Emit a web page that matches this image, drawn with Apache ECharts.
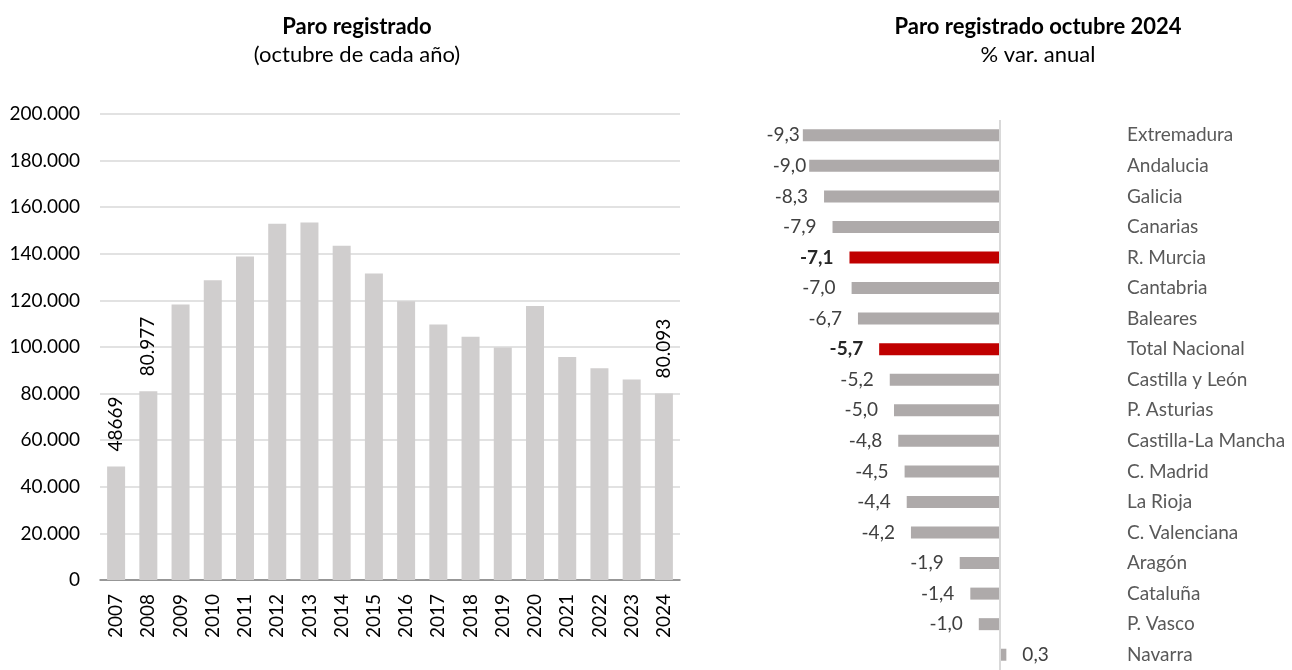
<!DOCTYPE html>
<html>
	<head>
		<meta charset="utf-8">
		<title>Paro registrado</title>
		<script src="https://cdn.jsdelivr.net/npm/echarts@6/dist/echarts.min.js"></script>
		<style>
			html, body { margin: 0; padding: 0; background: #fff; }
		</style>
	</head>
	<body>
		<div id="main" style="width: 1292px;height:670px;"></div>

		<script type="text/javascript">
			// left chart: paro registrado en octubre de cada año
			var years = ['2007', '2008', '2009', '2010', '2011', '2012', '2013', '2014', '2015',
				'2016', '2017', '2018', '2019', '2020', '2021', '2022', '2023', '2024'];
			var paro = [48669, 80977, 118200, 128600, 138800, 152900, 153400, 143500, 131500,
				119600, 109700, 104400, 99800, 117600, 95700, 90900, 86100, 80093];
			var paroLabels = ['48669', '80.977', '', '', '', '', '', '', '',
				'', '', '', '', '', '', '', '', '80.093'];

			// right chart: % var. anual por comunidad
			var regiones = ['Extremadura', 'Andalucia', 'Galicia', 'Canarias', 'R. Murcia', 'Cantabria',
				'Baleares', 'Total Nacional', 'Castilla y León', 'P. Asturias', 'Castilla-La Mancha',
				'C. Madrid', 'La Rioja', 'C. Valenciana', 'Aragón', 'Cataluña', 'P. Vasco', 'Navarra'];
			var variacion = [-9.3, -9.0, -8.3, -7.9, -7.1, -7.0, -6.7, -5.7, -5.2, -5.0, -4.8,
				-4.5, -4.4, -4.2, -1.9, -1.4, -1.0, 0.3];
			var destacadas = ['R. Murcia', 'Total Nacional'];

			var fuente = 'Lato, "Open Sans", sans-serif';

			function miles(v) {
				return String(v).replace(/\B(?=(\d{3})+(?!\d))/g, '.');
			}

			var paroData = paro.map(function(v, i) {
				return {
					value: v,
					label: { show: paroLabels[i] !== '', formatter: paroLabels[i] }
				};
			});

			var varData = variacion.map(function(v, i) {
				var rojo = destacadas.indexOf(regiones[i]) >= 0;
				return {
					value: v,
					itemStyle: { color: rojo ? '#c00000' : '#aeaaaa' },
					label: {
						position: v < 0 ? 'left' : 'right',
						// los rótulos más largos quedan pegados al borde del área
						distance: v < -8.8 ? 3 : 16,
						fontWeight: rojo ? 'bold' : 'normal',
						color: rojo ? '#262626' : '#404040'
					}
				};
			});

			var myChart = echarts.init(document.getElementById('main'));

			var option = {
				animation: false,
				textStyle: { fontFamily: fuente },
				title: [{
					text: 'Paro registrado',
					subtext: '(octubre de cada año)',
					left: 352,
					top: 11,
					textAlign: 'center',
					itemGap: 6,
					textStyle: { fontSize: 22, fontWeight: 'bold', color: '#000', fontFamily: fuente },
					subtextStyle: { fontSize: 22, color: '#000', fontFamily: fuente }
				}, {
					text: 'Paro registrado octubre 2024',
					subtext: '% var. anual',
					left: 1033,
					top: 11,
					textAlign: 'center',
					itemGap: 6,
					textStyle: { fontSize: 22, fontWeight: 'bold', color: '#000', fontFamily: fuente },
					subtextStyle: { fontSize: 22, color: '#000', fontFamily: fuente }
				}],
				grid: [{
					left: 100,
					right: 612,
					top: 114,
					bottom: 90
				}, {
					left: 788,
					right: 186,
					top: 120,
					bottom: -7
				}],
				xAxis: [{
					gridIndex: 0,
					type: 'category',
					data: years,
					axisLine: { lineStyle: { color: '#7f7f7f', width: 1.5 } },
					axisTick: { show: false },
					axisLabel: { rotate: 90, margin: 14, fontSize: 19, color: '#000' }
				}, {
					gridIndex: 1,
					type: 'value',
					min: -10,
					max: 5,
					axisLine: { show: false },
					axisTick: { show: false },
					axisLabel: { show: false },
					splitLine: { show: false }
				}],
				yAxis: [{
					gridIndex: 0,
					type: 'value',
					min: 0,
					max: 200000,
					interval: 20000,
					axisLabel: {
						fontSize: 19,
						color: '#000',
						margin: 20,
						formatter: function(v) { return miles(v); }
					},
					splitLine: { lineStyle: { color: '#d9d9d9', width: 1.5 } }
				}, {
					gridIndex: 1,
					type: 'category',
					data: regiones,
					inverse: true,
					position: 'right',
					axisLine: { show: false },
					axisTick: { show: false },
					axisLabel: { fontSize: 19, color: '#595959', margin: 21 }
				}],
				series: [{
					name: 'Paro registrado',
					type: 'bar',
					xAxisIndex: 0,
					yAxisIndex: 0,
					barWidth: 18,
					itemStyle: { color: '#d0cece' },
					label: {
						position: 'top',
						rotate: 90,
						align: 'left',
						verticalAlign: 'middle',
						distance: 15,
						fontSize: 19,
						color: '#000'
					},
					data: paroData
				}, {
					name: '% var. anual',
					type: 'bar',
					xAxisIndex: 1,
					yAxisIndex: 1,
					barWidth: 12,
					label: {
						show: true,
						fontSize: 19,
						formatter: function(p) { return p.value.toFixed(1).replace('.', ','); }
					},
					markLine: {
						silent: true,
						symbol: 'none',
						label: { show: false },
						lineStyle: { color: '#d9d9d9', width: 2, type: 'solid' },
						data: [{ xAxis: 0 }]
					},
					data: varData
				}]
			};

			myChart.setOption(option);
		</script>
	</body>
</html>
